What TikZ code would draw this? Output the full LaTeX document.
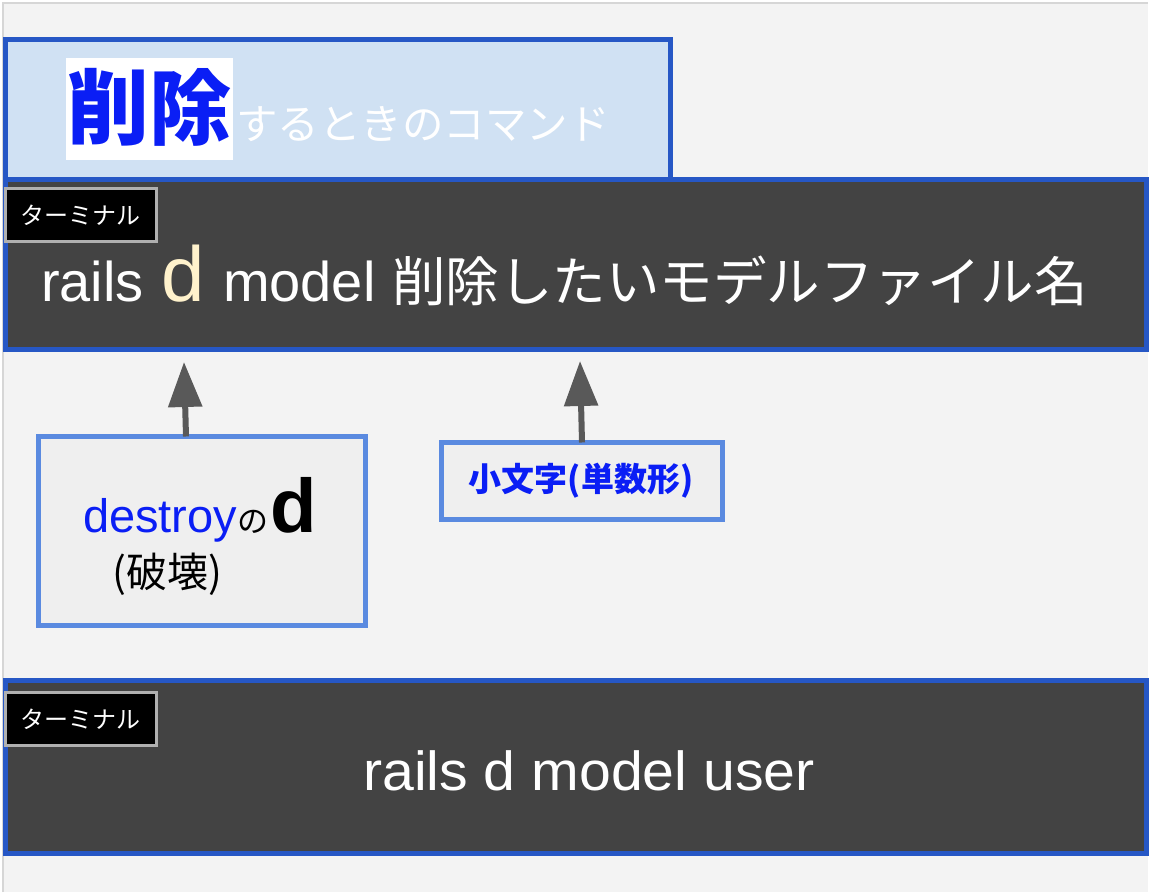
\documentclass[tikz,border=0pt]{standalone}
\usepackage{fontspec}
\setmainfont{Liberation Sans}
\newfontfamily\jp{Noto Sans CJK JP}
\usetikzlibrary{arrows.meta}
\definecolor{bggray}{HTML}{F3F3F3}
\definecolor{edgegray}{HTML}{D6D6D6}
\definecolor{titlefill}{HTML}{D0E1F3}
\definecolor{frameblue}{HTML}{2657C5}
\definecolor{termdark}{HTML}{434343}
\definecolor{noteblue}{HTML}{5A8AE0}
\definecolor{notefill}{HTML}{EFEFEF}
\definecolor{arrowgray}{HTML}{595959}
\definecolor{cream}{HTML}{FFF2CC}
\definecolor{textblue}{HTML}{0A1EF5}
\definecolor{labelgray}{HTML}{B0B0B0}
\newcommand{\fsz}[1]{\fontsize{#1}{#1}\selectfont}
\tikzset{
  titlebox/.style={draw=frameblue, fill=titlefill, line width=5pt},
  termbox/.style={draw=frameblue, fill=termdark, line width=5pt},
  termlabel/.style={draw=labelgray, fill=black, line width=3pt, outer sep=0pt},
  notebox/.style={draw=noteblue, fill=notefill, line width=5pt, outer sep=0pt},
  pointer/.style={draw=arrowgray, line width=6pt, -{Triangle[width=33pt,length=45pt]}},
  plain/.style={inner sep=0pt, outer sep=0pt},
  cmdtext/.style={plain, anchor=base west, text=white, font=\fsz{56}}
}
\begin{document}
\begin{tikzpicture}[x=1pt,y=1pt]
\useasboundingbox (0,0) rectangle (1150,894);
\fill[white] (0,0) rectangle (1150,894);
\fill[bggray] (3,2) rectangle (1148,891);
\draw[edgegray, line width=1.5pt] (3,2) -- (3,891) -- (1148,891);

% title
\path[titlebox] (5.5,854.5) rectangle (670.5,714);
\fill[white] (66,836) rectangle (233,734);
\node[plain, text=textblue, font=\jp\bfseries\fsz{82}] (t1) at (149.5,787) {削除};
\node[plain, anchor=west, text=white, font=\jp\fsz{41.5}] (t2) at (236,770) {するときのコマンド};

% terminal 1
\path[termbox] (5.5,714) rectangle (1146,544);
\node[termlabel, minimum width=150.5pt, minimum height=53pt, inner sep=0pt, anchor=north west] (lab1) at (5.5,705.5) {};
\node[plain, text=white, font=\jp\fsz{24}] at (lab1.center) {ターミナル};
\node[cmdtext] (c1) at (41,592) {rails};
\node[cmdtext, text=cream, font=\fsz{78}] (c2) at (161,592) {d};
\node[cmdtext] (c3) at (223,592) {model};
\node[cmdtext, font=\jp\fsz{53.5}] (c4) at (392,592) {削除したいモデルファイル名};

% note boxes
\node[notebox, minimum width=326.5pt, minimum height=189.5pt, anchor=north west] (nd) at (38.5,457.5) {};
\node[notebox, minimum width=281pt, minimum height=77pt, anchor=north west] (ns) at (441,451.5) {};
\node[plain, anchor=base west, text=textblue, font=\fsz{47}] (dtxt) at (83,361)
  {destroy{\color{black}\jp\fsz{31}の}\hspace{2pt}{\color{black}\bfseries\fsz{76}d}};
\node[plain, text=black, font=\jp\fsz{41}] (hakai) at (167,320) {(破壊)};
\node[plain, text=textblue, font=\jp\bfseries\fsz{33}] (stxt) at (581,413) {小文字(単数形)};

% arrows
\coordinate (a1) at (184,532);
\coordinate (a2) at (580,533);
\draw[pointer] (nd.north -| 186,0) -- (a1);
\draw[pointer] (ns.north -| 582,0) -- (a2);

% terminal 2
\path[termbox] (5.5,213) rectangle (1146,41);
\node[termlabel, minimum width=150.5pt, minimum height=53pt, inner sep=0pt, anchor=north west] (lab2) at (5.5,201.5) {};
\node[plain, text=white, font=\jp\fsz{24}] at (lab2.center) {ターミナル};
\node[plain, anchor=base, text=white, font=\fsz{55}] (cmd2) at (589,104) {\scalebox{1.04}[1]{rails d model user}};
\end{tikzpicture}
\end{document}
